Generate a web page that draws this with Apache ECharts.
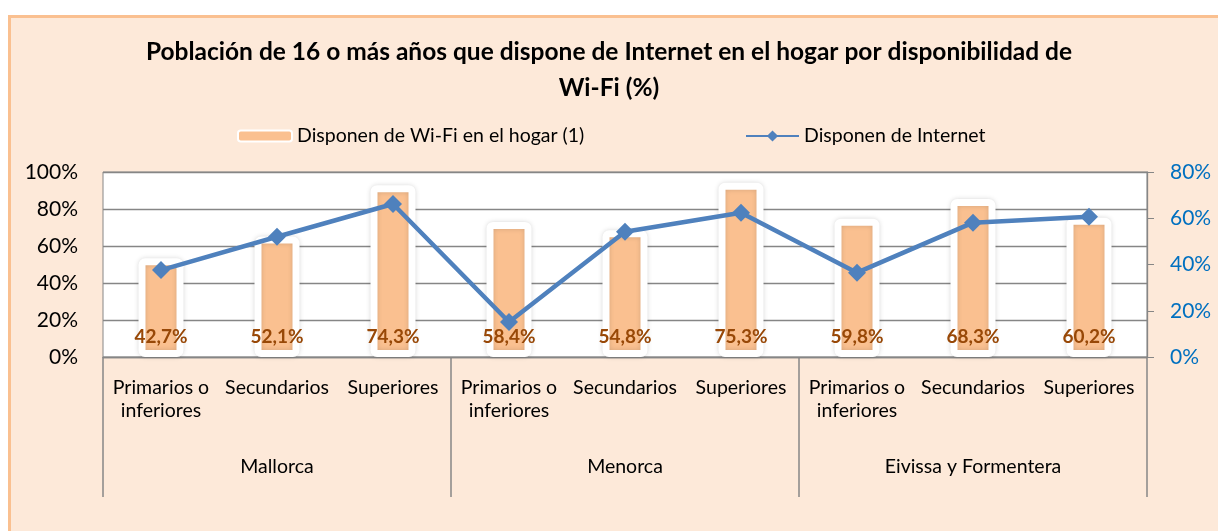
<!DOCTYPE html>
<html>
<head>
<meta charset="utf-8">
<script src="https://cdn.jsdelivr.net/npm/echarts@6/dist/echarts.min.js"></script>
<style>
  html, body { margin: 0; padding: 0; background: #fff; overflow: hidden; }
  #box { position: absolute; left: 8px; top: 15px; width: 1300px; height: 600px;
         background: #FDE9D9; border: 3px solid #FAC090; }
  #main { position: absolute; left: 0; top: 0; width: 1218px; height: 531px; }
</style>
</head>
<body>
<div id="box"></div>
<div id="main"></div>
<script>
var estudios = ['Primarios o\ninferiores', 'Secundarios', 'Superiores',
  'Primarios o\ninferiores', 'Secundarios', 'Superiores',
  'Primarios o\ninferiores', 'Secundarios', 'Superiores'];
var islas = ['Mallorca', 'Menorca', 'Eivissa y Formentera'];
var wifi = [42.7, 52.1, 74.3, 58.4, 54.8, 75.3, 59.8, 68.3, 60.2];
var internet = [47.0, 65.0, 82.7, 18.9, 67.7, 78.0, 45.6, 72.6, 75.8];
var ticksIzq = [0, 100, 20];
var ticksDer = [0, 80, 20];

var fuente = 'Lato';
var gris = '#868686';

var chart = echarts.init(document.getElementById('main'));

var option = {
  backgroundColor: 'transparent',
  title: {
    text: 'Población de 16 o más años que dispone de Internet en el hogar por disponibilidad de\nWi-Fi (%)',
    left: 'center',
    top: 34,
    padding: [0, 0, 0, 36],
    textStyle: {
      fontFamily: fuente,
      fontSize: 24.5,
      fontWeight: 'bold',
      color: '#000',
      lineHeight: 36
    }
  },
  legend: [{
    left: 232,
    top: 121,
    data: ['Disponen de Wi-Fi en el hogar (1)'],
    itemWidth: 54,
    itemHeight: 11,
    itemStyle: { borderWidth: 2, borderColor: '#fff', shadowBlur: 0 },
    textStyle: { fontFamily: fuente, fontSize: 19.5, color: '#000' }
  }, {
    left: 740,
    top: 121,
    data: ['Disponen de Internet'],
    itemWidth: 53,
    itemHeight: 14,
    textStyle: { fontFamily: fuente, fontSize: 19.5, color: '#000' }
  }],
  grid: {
    left: 103,
    right: 71,
    top: 172,
    bottom: 174,
    show: true,
    backgroundColor: '#fff',
    borderColor: gris,
    borderWidth: 1
  },
  xAxis: [{
    type: 'category',
    data: estudios,
    position: 'bottom',
    axisLine: { lineStyle: { color: gris, width: 1.3 } },
    axisTick: { show: false },
    axisLabel: {
      interval: 0,
      margin: 19,
      fontFamily: fuente,
      fontSize: 19.5,
      lineHeight: 23,
      color: '#000'
    }
  }, {
    type: 'category',
    data: islas,
    position: 'bottom',
    axisLine: { show: false },
    axisTick: { show: true, length: 140, lineStyle: { color: gris, width: 1.5 } },
    axisLabel: {
      margin: 100,
      fontFamily: fuente,
      fontSize: 19.5,
      color: '#000'
    }
  }],
  yAxis: [{
    type: 'value',
    min: ticksIzq[0],
    max: ticksIzq[1],
    interval: ticksIzq[2],
    axisLine: { show: false },
    axisTick: { show: false },
    splitLine: { lineStyle: { color: gris, width: 1.3 } },
    axisLabel: {
      formatter: '{value}%',
      margin: 25,
      fontFamily: fuente,
      fontSize: 21,
      color: '#000'
    }
  }, {
    type: 'value',
    min: ticksDer[0],
    max: ticksDer[1],
    interval: ticksDer[2],
    position: 'right',
    axisLine: { show: true, lineStyle: { color: gris, width: 1.3 } },
    axisTick: { show: true, length: 7, lineStyle: { color: gris } },
    splitLine: { show: false },
    axisLabel: {
      formatter: '{value}%',
      margin: 23,
      fontFamily: fuente,
      fontSize: 21,
      color: '#0070C0'
    }
  }],
  series: [{
    name: 'Disponen de Wi-Fi en el hogar (1)',
    type: 'bar',
    yAxisIndex: 1,
    data: wifi,
    barWidth: 45,
    itemStyle: {
      color: '#FAC090',
      borderColor: '#fff',
      borderWidth: 7,
      borderRadius: 3,
      shadowBlur: 5,
      shadowColor: 'rgba(0,0,0,0.15)'
    },
    label: {
      show: true,
      position: 'insideBottom',
      distance: 11,
      formatter: function (p) { return p.value.toFixed(1).replace('.', ',') + '%'; },
      fontFamily: fuente,
      fontSize: 19,
      fontWeight: 'bold',
      color: '#984807'
    },
    z: 2
  }, {
    name: 'Disponen de Internet',
    type: 'line',
    yAxisIndex: 0,
    data: internet,
    symbol: 'diamond',
    symbolSize: 18,
    color: '#4F81BD',
    lineStyle: { color: '#4F81BD', width: 4.5 },
    itemStyle: { color: '#4F81BD' },
    z: 3
  }]
};

chart.setOption(option);
</script>
</body>
</html>
